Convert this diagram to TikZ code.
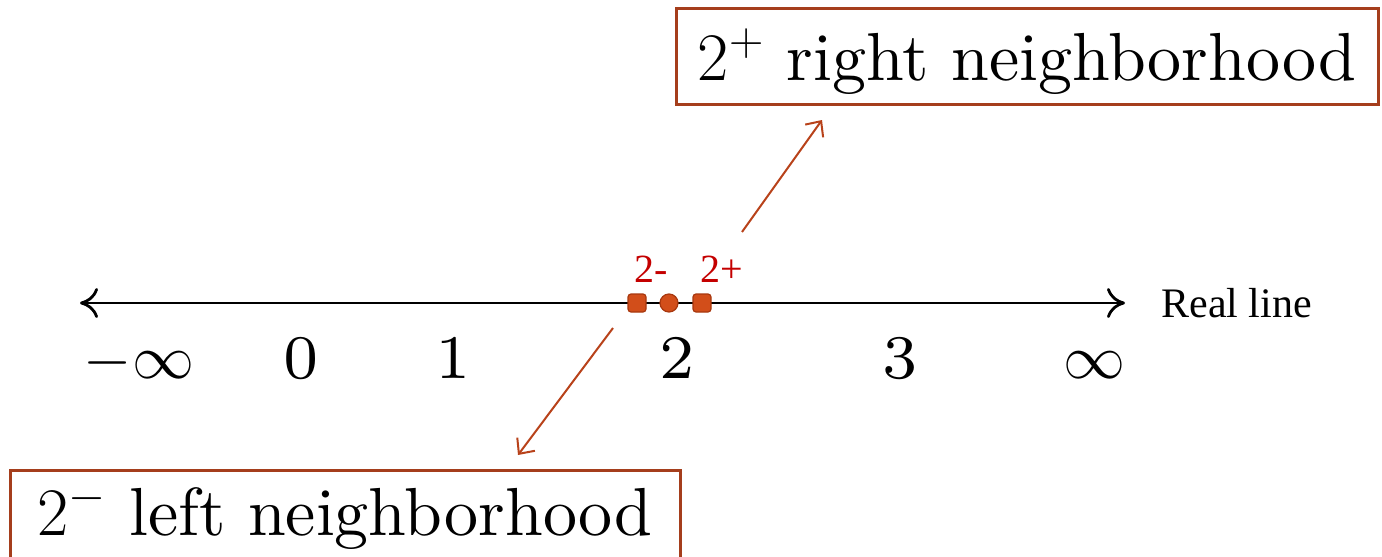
\RequirePackage{fix-cm}
\documentclass[tikz,border=0pt]{standalone}
\usepackage{fontspec}
\setmainfont{lmroman10-regular}[Extension=.otf]
\newfontfamily\numfont{lmroman7-regular}[Extension=.otf]
\newfontfamily\garafont{Liberation Serif}
\usetikzlibrary{arrows.meta,positioning}
\definecolor{boxred}{HTML}{A53E1C}
\definecolor{ptrred}{HTML}{B8421A}
\definecolor{dotfill}{HTML}{D24E1A}
\definecolor{dotedge}{HTML}{A8380F}
\definecolor{labred}{HTML}{C40000}
\tikzset{
  nbhd/.style={draw=boxred,line width=1.5pt,inner sep=0pt,text height=24pt,
    font=\fontsize{34}{40}\selectfont},
  ptr/.style={ptrred,line width=1pt,-{Straight Barb[length=6pt,width=11pt]}},
  realaxis/.style={line width=1.4pt,
    {Computer Modern Rightarrow[length=9pt,width=15pt]}-{Computer Modern Rightarrow[length=9pt,width=15pt]}},
  sqpt/.style={draw=dotedge,fill=dotfill,line width=0.6pt,minimum size=9pt,inner sep=0pt,rounded corners=1.5pt},
  rdpt/.style={circle,draw=dotedge,fill=dotfill,line width=0.6pt,minimum size=9pt,inner sep=0pt},
  redlab/.style={labred,anchor=base,inner sep=0pt,font=\garafont\fontsize{20}{24}\selectfont},
  numlab/.style={anchor=base,inner sep=0pt,font=\numfont\fontsize{31}{36}\selectfont}
}
\begin{document}
\begin{tikzpicture}[x=0.5pt,y=-0.5pt]
  \useasboundingbox (0,0) rectangle (1382,557);
  % the real line
  \coordinate (lend) at (80,303);
  \coordinate (rend) at (1125,303);
  \draw[realaxis] (lend) -- (rend);
  \node[right=18pt of rend,inner sep=0pt,font=\garafont\fontsize{21}{25}\selectfont] (rl) {Real line};
  \foreach \x/\l in {139/{$-\infty$}, 301/0, 453/1, 677/2, 900/3, 1094/{$\infty$}}
    {\node[numlab] (n\x) at (\x,378) {\l};}
  % points around 2
  \node[sqpt] (lpt) at (637,303) {};
  \node[rdpt] (cpt) at (669,303) {};
  \node[sqpt] (rpt) at (702,303) {};
  \node[redlab] (lptlab) at (651,282) {2-};
  \node[redlab] (rptlab) at (722,282) {2+};
  % neighborhoods
  \node[nbhd,minimum width=351pt,minimum height=48pt,text depth=0pt] (rnbhd) at (1027,56) {$2^+$ right neighborhood};
  \node[nbhd,minimum width=335pt,minimum height=55pt,text depth=14pt] (lnbhd) at (345,525) {$2^-$ left neighborhood};
  \coordinate (rtail) at (742,232);
  \coordinate (rtip) at (822,120);
  \coordinate (ltail) at (613,328);
  \coordinate (ltip) at (518,455);
  \draw[ptr] (rtail) -- (rtip);
  \draw[ptr] (ltail) -- (ltip);
\end{tikzpicture}
\end{document}
